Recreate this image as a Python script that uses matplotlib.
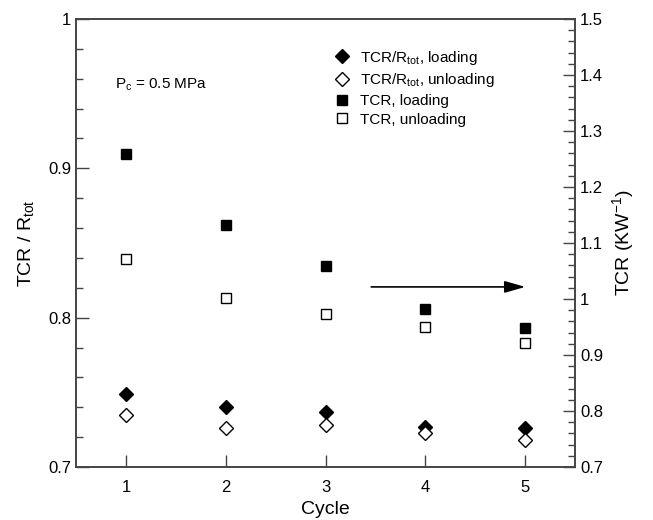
import matplotlib
matplotlib.use('Agg')
import matplotlib.pyplot as plt
from matplotlib.ticker import MultipleLocator, FuncFormatter

plt.rcParams['font.family'] = ['Liberation Sans', 'DejaVu Sans']
plt.rcParams['mathtext.fontset'] = 'custom'
plt.rcParams['mathtext.rm'] = 'Liberation Sans'
plt.rcParams['mathtext.it'] = 'Liberation Sans:italic'

cycle = [1, 2, 3, 4, 5]
# TCR / Rtot (left axis)
ratio_load = [0.749, 0.740, 0.737, 0.727, 0.726]
ratio_unload = [0.735, 0.726, 0.728, 0.723, 0.718]
# TCR in K/W (right axis)
tcr_load = [1.259, 1.132, 1.059, 0.982, 0.948]
tcr_unload = [1.071, 1.002, 0.973, 0.950, 0.921]

spine_col = '#444444'

fig = plt.figure(figsize=(6.53, 5.2), dpi=100)
ax = fig.add_axes([0.1164, 0.1019, 0.7642, 0.8616])
ax2 = ax.twinx()

h1, = ax.plot(cycle, ratio_load, 'D', color='black', ms=7.5, ls='none',
              label='TCR/R$_{\\rm tot}$, loading')
h2, = ax.plot(cycle, ratio_unload, 'D', mfc='white', mec='black', mew=1.0,
              ms=7.5, ls='none', label='TCR/R$_{\\rm tot}$, unloading')
h3, = ax2.plot(cycle, tcr_load, 's', color='black', ms=6.5, ls='none',
               label='TCR, loading')
h4, = ax2.plot(cycle, tcr_unload, 's', mfc='white', mec='black', mew=1.0,
               ms=6.5, ls='none', label='TCR, unloading')

ax.set_xlim(0.5, 5.5)
ax.set_ylim(0.7, 1.0)
ax2.set_ylim(0.7, 1.5)

ax.xaxis.set_major_locator(MultipleLocator(1))
ax.yaxis.set_major_locator(MultipleLocator(0.1))
ax.yaxis.set_minor_locator(MultipleLocator(0.02))
ax2.yaxis.set_major_locator(MultipleLocator(0.1))
ax2.yaxis.set_minor_locator(MultipleLocator(0.02))

fmt = FuncFormatter(lambda v, p: ('%g' % round(v, 2)))
ax.yaxis.set_major_formatter(fmt)
ax2.yaxis.set_major_formatter(fmt)

ax.tick_params(axis='x', which='major', direction='in', length=9, width=1,
               color=spine_col, labelsize=12, pad=9, top=False)
ax.tick_params(axis='y', which='major', direction='in', length=9, width=1,
               color=spine_col, labelsize=12, right=False)
ax.tick_params(axis='y', which='minor', direction='in', length=5, width=1,
               color=spine_col, right=False)
ax2.tick_params(axis='y', which='major', direction='in', length=9, width=1,
                color=spine_col, labelsize=12)
ax2.tick_params(axis='y', which='minor', direction='in', length=5, width=1,
                color=spine_col)

for a in (ax, ax2):
    for s in a.spines.values():
        s.set_color(spine_col)
        s.set_linewidth(1.2)

ax.set_xlabel('Cycle', fontsize=14, labelpad=5)
ax.set_ylabel('TCR / R$_{\\rm tot}$', fontsize=14, labelpad=9)
ax2.set_ylabel('TCR (KW$^{-1}$)', fontsize=14, labelpad=5)

ax.text(0.89, 0.956, 'P$_{\\rm c}$ = 0.5 MPa', fontsize=11, va='center')

ax.annotate('', xy=(5.03, 0.8206), xytext=(3.43, 0.8206),
            arrowprops=dict(arrowstyle='-|>,head_length=0.7,head_width=0.2',
                            color='black', lw=1.2, mutation_scale=18))

ax.legend(handles=[h1, h2, h3, h4], loc='upper left',
          bbox_to_anchor=(0.505, 0.947), frameon=False, fontsize=11,
          handlelength=1.0, handletextpad=0.7, labelspacing=0.3,
          borderaxespad=0)

fig.savefig('out.png', dpi=100)
